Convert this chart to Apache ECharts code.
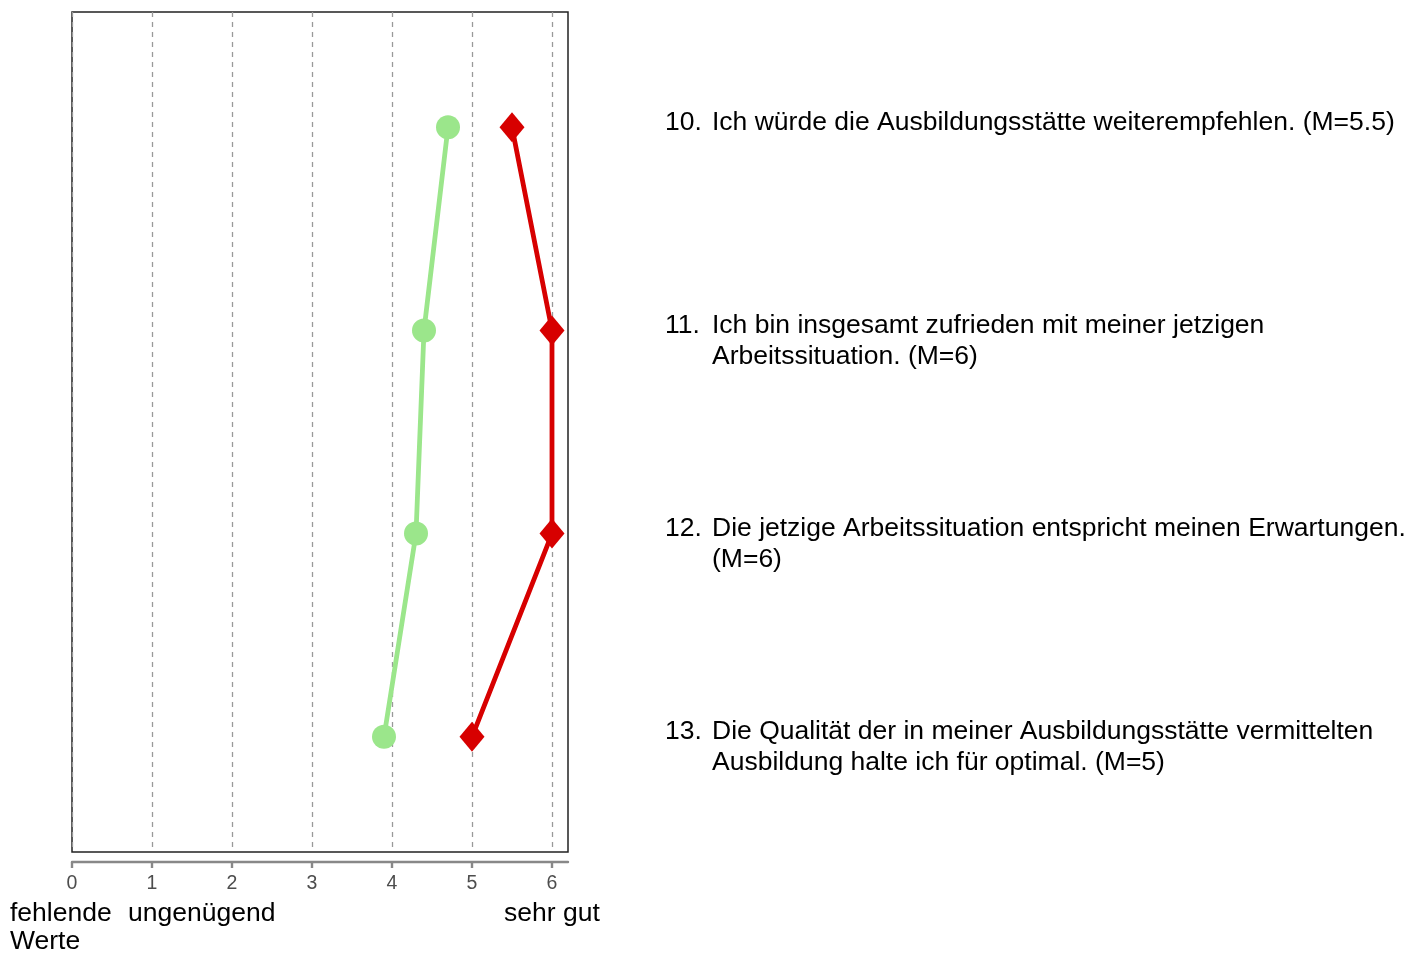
<!DOCTYPE html>
<html><head><meta charset="utf-8">
<script src="https://cdn.jsdelivr.net/npm/echarts@6/dist/echarts.min.js"></script>
<style>html,body{margin:0;padding:0;background:#fff}#c{width:1410px;height:953px}</style>
</head><body><div id="c"></div>
<script>
const itemNumbers = ['10.', '11.', '12.', '13.'];
const itemTexts = [
  ['Ich würde die Ausbildungsstätte weiterempfehlen. (M=5.5)'],
  ['Ich bin insgesamt zufrieden mit meiner jetzigen', 'Arbeitssituation. (M=6)'],
  ['Die jetzige Arbeitssituation entspricht meinen Erwartungen.', '(M=6)'],
  ['Die Qualität der in meiner Ausbildungsstätte vermittelten', 'Ausbildung halte ich für optimal. (M=5)']
];
const itemPositions = [1, 2, 3, 4];
const greenValues = [4.7, 4.4, 4.3, 3.9];
const redValues = [5.5, 6, 6, 5];
const tickValues = [0, 1, 2, 3, 4, 5, 6];
const scaleLabels = [
  {value: 0, text: 'fehlende\nWerte'},
  {value: 1, text: 'ungenügend'},
  {value: 6, text: 'sehr gut'}
];

const font = 'Liberation Sans';
const textSize = 26.5;
const chart = echarts.init(document.getElementById('c'), null, {renderer: 'canvas'});
const option = {
  animation: false,
  grid: {left: 72, top: 12, width: 496, height: 840, show: true, borderColor: '#222', borderWidth: 1.5, backgroundColor: 'transparent', containLabel: false},
  xAxis: {
    type: 'value', min: 0, max: 6.2, interval: 1, offset: 10,
    axisLine: {show: true, lineStyle: {color: '#888', width: 2.4}},
    axisTick: {show: true, length: 6, lineStyle: {color: '#888', width: 2.4}, customValues: tickValues},
    axisLabel: {show: true, color: '#4d4d4d', fontSize: 19.5, fontFamily: font, margin: 12, customValues: tickValues},
    splitLine: {show: true, lineStyle: {color: '#999', type: [5, 5], width: 1.3}}
  },
  yAxis: {
    type: 'value', min: 0.433, max: 4.567, inverse: true, show: false,
    splitLine: {show: false}
  },
  series: [
    {
      type: 'line', name: 'green',
      data: greenValues.map((v, i) => [v, itemPositions[i]]),
      symbol: 'circle', symbolSize: 24,
      lineStyle: {color: '#9be68b', width: 4.8},
      itemStyle: {color: '#9be68b'}, z: 3
    },
    {
      type: 'line', name: 'red',
      data: redValues.map((v, i) => [v, itemPositions[i]]),
      symbol: 'diamond', symbolSize: [25, 30],
      lineStyle: {color: '#d70000', width: 4.8},
      itemStyle: {color: '#d70000'}, z: 4
    }
  ]
};
chart.setOption(option);

const elements = [];
itemPositions.forEach((p, i) => {
  const y = chart.convertToPixel({yAxisIndex: 0}, p);
  elements.push({type: 'text', x: 665, y: y - 5, style: {text: itemNumbers[i], fontSize: textSize, fontFamily: font, fill: '#000', verticalAlign: 'middle', align: 'left'}});
  itemTexts[i].forEach((t, j) => {
    elements.push({type: 'text', x: 712, y: y - 5 + j * 31, style: {text: t, fontSize: textSize, fontFamily: font, fill: '#000', verticalAlign: 'middle', align: 'left'}});
  });
});
scaleLabels.forEach(s => {
  const x = chart.convertToPixel({xAxisIndex: 0}, s.value);
  const lines = s.text.split('\n');
  lines.forEach((ln, j) => {
    let el = {type: 'text', y: 914 + j * 28, style: {text: ln, fontSize: textSize, fontFamily: font, fill: '#000', verticalAlign: 'middle'}};
    if (s.value === 0) { el.x = 10; el.style.align = 'left'; }
    else if (s.value === 1) { el.x = 128; el.style.align = 'left'; }
    else { el.x = x; el.style.align = 'center'; }
    elements.push(el);
  });
});
chart.setOption({graphic: {elements}});
</script></body></html>
